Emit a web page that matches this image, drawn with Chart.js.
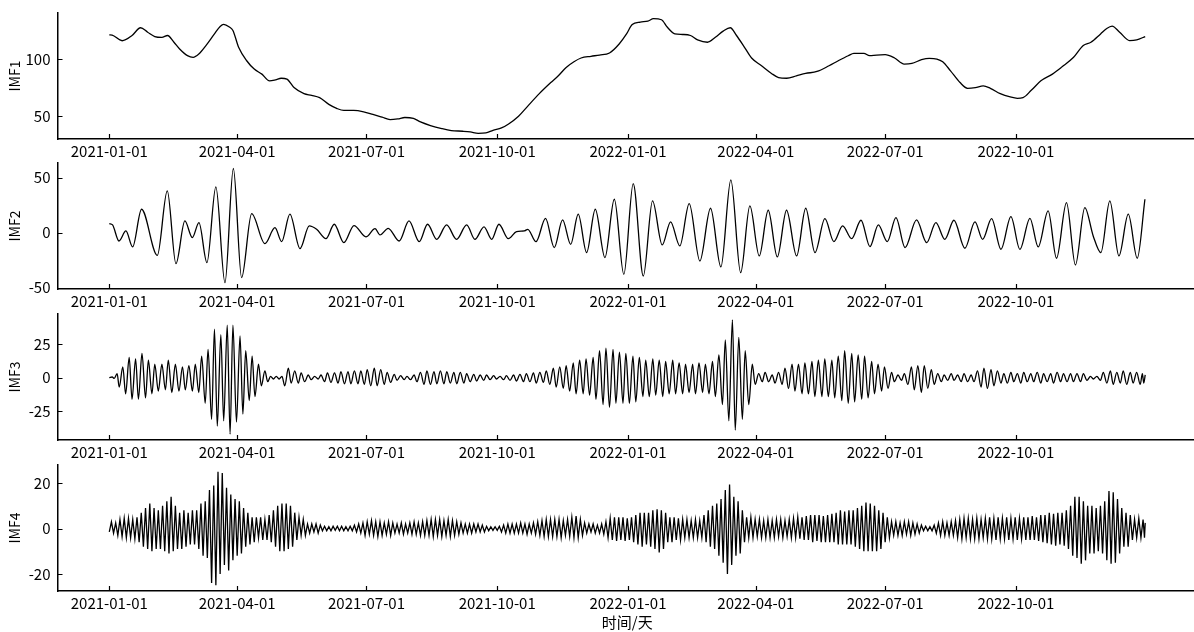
<!DOCTYPE html>
<html>
<head>
<meta charset="utf-8">
<script src="https://cdn.jsdelivr.net/npm/chart.js@4.4.1/dist/chart.umd.min.js"></script>
<style>
  html, body { margin: 0; padding: 0; background: #fff; overflow: hidden; }
  body { width: 1194px; height: 632px; position: relative; }
  canvas { position: absolute; left: 0; }
</style>
</head>
<body>
<canvas id="c1" width="1200" height="156" style="top:7px"></canvas>
<canvas id="c2" width="1200" height="156" style="top:157px"></canvas>
<canvas id="c3" width="1200" height="156" style="top:308px"></canvas>
<canvas id="c4" width="1200" height="173" style="top:459px"></canvas>
<script>
// x axis: days since 2021-01-01
var xTickDays = [0, 90, 181, 273, 365, 455, 546, 638];
var xTickLabels = ['2021-01-01', '2021-04-01', '2021-07-01', '2021-10-01',
                   '2022-01-01', '2022-04-01', '2022-07-01', '2022-10-01'];

// IMF1 (trend)
var imf1Days = [0, 2, 9, 16, 22, 27, 32, 37, 41, 45.5, 49.5, 55, 59, 63, 68, 74, 78, 80.5, 84.5, 87,
  91, 96.7, 102, 107.4, 112.8, 117, 121, 125, 130, 137, 142.4, 148, 154.5, 160, 165, 172, 179, 185.5,
  192, 197.6, 203, 208, 214, 219, 226, 234, 240.7, 248.8, 254, 259.6, 265, 270, 276, 281, 288, 294.5,
  302.6, 310.7, 316, 321.5, 327, 332, 339, 345, 352, 358.8, 364, 368, 373.7, 379, 383, 388.6, 392.6,
  398, 403.5, 409, 414, 421, 426.5, 432, 437, 441.4, 447, 452, 459, 466, 471, 476.7, 483.5, 490, 498,
  506.5, 513, 520, 524, 531, 535, 540, 546, 552.6, 559.4, 564.8, 571.6, 577, 582.4, 586.5, 592, 598.7,
  604, 609.5, 615, 620, 627, 634, 639, 643, 648.8, 655.6, 663.7, 670.5, 678.6, 685.4, 690.8, 697.6,
  701.7, 705.7, 711, 718, 723, 729];
var imf1Vals = [121.2, 121, 116, 120.6, 127.4, 123.5, 119.7, 119, 120.6, 114.7, 108.8, 103, 101.5, 104.4,
  111.8, 122, 128.5, 130.3, 128, 125, 110.3, 98.5, 91.2, 86.8, 80.9, 81.8, 83.2, 82.4, 75, 69.7, 68.2,
  66.2, 60.3, 56.8, 55, 55, 53.8, 51.5, 49.1, 47, 47.6, 48.8, 48, 45, 41.8, 39.1, 37.4, 36.8, 36.2, 35,
  35.3, 37.6, 39.7, 43.2, 50, 58.8, 69.7, 79.4, 85.3, 92.6, 97.6, 100.9, 102.4, 103.5, 105.3, 113.2, 122,
  130.3, 132.4, 133.2, 135.3, 134.4, 128, 122, 121.5, 120.6, 116.8, 114.7, 119, 124.4, 127.4, 120.6,
  110.3, 100.9, 94.1, 87.4, 83.8, 83.2, 85.3, 87.4, 89.1, 94.1, 98.5, 102.9, 105, 105, 102.9, 103.5,
  103.8, 100.9, 95.6, 96.2, 99.4, 100.6, 100, 97.6, 89.7, 79.4, 74.4, 75, 76.5, 74.4, 69.7, 66.8, 65.6,
  66.2, 72.6, 80.9, 86.8, 93.2, 101.5, 111.8, 114.7, 122, 126.5, 128.8, 123.5, 116.2, 116.8, 119.7];

// IMF2: peaks and troughs
var imf2Days = [0, 2.3, 6.8, 11.7, 16.4, 22.7, 33.8, 40.8, 46.9, 53.2, 58.4, 63.1, 68.7, 75, 81.4, 87.3,
  93.1, 100.2, 109.5, 116.6, 121.3, 127.1, 134.2, 140.7, 145.9, 152.5, 158.3, 165.1, 172.2, 180.6, 187,
  190.5, 196.3, 204, 210.9, 218.1, 224, 230.4, 237.4, 244.4, 251.5, 257.3, 263.7, 269.1, 274.2, 280.8,
  286.6, 292, 294.5, 300.3, 307, 313.1, 319, 324.7, 330, 335.9, 342, 348.8, 355.4, 362.1, 368.7, 375.8,
  382.3, 389.1, 395, 401.5, 408.1, 415.6, 423.1, 430.4, 437.4, 444.3, 450.8, 457.4, 463.7, 470.1, 476.6,
  483.7, 490.1, 496.6, 503.6, 509.9, 516.1, 522.4, 529, 535.3, 541.2, 547.5, 553.6, 560, 568.1, 575.2,
  581.7, 588, 594.4, 602.1, 609.2, 614.6, 620.9, 627.5, 634.5, 640.8, 647.9, 653.7, 660.7, 666.6, 673.6,
  679.9, 686.5, 692.4, 697.8, 704.1, 710.5, 717.1, 723.4, 728.8];
var imf2Vals = [8.2, 7, -7.6, 1.5, -13, 21.2, -20.6, 37.9, -28.2, 10.6, -4.5, 9.1, -27.3, 41.5, -45.5, 58.2,
  -40.9, 17.3, -10, 4.5, -8.2, 16.7, -14.5, 6.1, 3, -5.5, 7.6, -9.1, 6.4, -3.9, 3.6, -2.1, 3.9, -7.6, 10.6,
  -8.2, 7.6, -6.1, 7, -6.1, 7, -6.1, 5.2, -6.1, 7.6, -5.5, 0.9, 1.5, 3, -8.2, 13, -13.6, 11.5, -10.6, 16.7,
  -18.2, 21.2, -22.7, 30.3, -37.9, 44.5, -39.4, 28.8, -11.2, 9.7, -12.1, 26.4, -25.8, 22.1, -31.2, 47.9,
  -36.4, 24.2, -21.2, 20.3, -22.1, 20.3, -21.2, 22.1, -18.2, 12.7, -8.2, 6.1, -5.5, 11.2, -12.7, 7, -8.2,
  13.6, -13.6, 11.5, -9.1, 9.1, -6.1, 11.2, -14.2, 9.7, -6.1, 12.7, -15.2, 14.5, -15.2, 13, -13, 19.7,
  -23.3, 27.3, -29.4, 22.7, -3, -18.2, 28.8, -21.2, 16.7, -23.3, 30.3];

// IMF3: peaks and troughs
var imf3Days = [0, 2, 3.5, 5.5, 7, 9.5, 11.5, 14, 16, 18.5, 20.5, 23, 25.5, 27.5, 30, 32, 34.5, 37, 39.5,
  41.5, 44, 46.5, 49, 51.5, 53.5, 56, 58.5, 60.5, 63, 65, 67.5, 69.5, 72, 74, 76, 78.5, 80.5, 83, 85, 87,
  89.5, 92, 94, 96, 98.5, 100.5, 102.5, 105, 107, 109.5, 111.5, 113.5, 115.5, 117.5, 119.5, 121.5, 123.5,
  126, 128, 130.5, 133, 135, 137.5, 140, 142, 144.5, 147, 149, 151.5, 153.5, 156, 158.5, 161, 163, 165.5,
  168, 170, 172.5, 175, 177, 179.5, 181.5, 184, 186.5, 188.5, 191, 193.5, 195.5, 198, 200.5, 202.5, 205,
  207.5, 209.5, 212, 214.5, 216.5, 219, 221.5, 223.5, 226, 228.5, 230.5, 233, 235.5, 237.5, 240, 242.5,
  244.5, 247, 249.5, 251.5, 254, 256.5, 258.5, 261, 263.5, 265.5, 268, 270.5, 272.5, 275, 277.5, 279.5,
  282, 284.5, 286.5, 289, 291.5, 293.5, 296, 298.5, 300.5, 303, 305.5, 307.5, 310, 312.5, 314.5, 317,
  319.5, 321.5, 324, 326.5, 328.5, 331, 333.5, 335.5, 338, 340.5, 342.5, 345, 347.5, 349.5, 352, 354.5,
  356.5, 359, 361.5, 363.5, 366, 368.5, 370.5, 373, 375.5, 377.5, 380, 382.5, 384.5, 387, 389.5, 391.5,
  394, 396.5, 398.5, 401, 403.5, 405.5, 408, 410.5, 412.5, 415, 417.5, 419.5, 422, 424.5, 426.5, 429,
  431.5, 433.5, 436, 438.5, 440.5, 443, 445.5, 447.5, 450, 452.5, 454.5, 457, 459.5, 461.5, 464, 466.5,
  468.5, 471, 473.5, 475.5, 478, 480.5, 482.5, 485, 487.5, 489.5, 492, 494.5, 496.5, 499, 501.5, 503.5,
  506, 508.5, 510.5, 513, 515.5, 517.5, 520, 522.5, 524.5, 527, 529.5, 531.5, 534, 536.5, 538.5, 541,
  543.5, 545.5, 548, 550.5, 552.5, 555, 557.5, 559.5, 562, 564.5, 566.5, 569, 571.5, 573.5, 576, 578.5,
  580.5, 583, 585.5, 587.5, 590, 592.5, 594.5, 597, 599.5, 601.5, 604, 606.5, 608.5, 611, 613.5, 615.5,
  618, 620.5, 622.5, 625, 627.5, 629.5, 632, 634.5, 636.5, 639, 641.5, 643.5, 646, 648.5, 650.5, 653,
  655.5, 657.5, 660, 662.5, 664.5, 667, 669.5, 671.5, 674, 676.5, 678.5, 681, 683.5, 685.5, 688, 690.5,
  692.5, 695, 697.5, 699.5, 702, 704.5, 706.5, 709, 711.5, 713.5, 716, 718.5, 720.5, 723, 725.5, 727,
  728, 729];
var imf3Vals = [0, 0.5, -0.5, 3, -7, 8, -12, 15, -16, 14, -16, 18, -15, 13, -12, 10, -10, 10, -9, 13, -11,
  10, -10, 8, -9, 9, -10, 10, -11, 16, -19, 21, -31, 36, -36, 32, -32, 39, -42, 39, -33, 31, -27, 20, -17,
  16, -14, 10, -6, 5, -3, 1, -1, 1, -1, 1, -6, 7, -4, 5, -4, 3.5, -3, 2, -1.5, 1, -1, 2, -3, 3.5, -3.5,
  3.5, -4, 4.5, -4.5, 4.5, -4.5, 5, -4.5, 5, -5, 6, -6, 7, -6, 6, -5, 4, -3.5, 2.5, -2, 1.5, -1.5, 1,
  -1.5, 2, -3, 4, -5, 5, -5, 4.5, -4.5, 5, -4.5, 4.5, -4, 4, -4.5, 4, -4, 3, -3, 2.5, -2.5, 2, -2, 2,
  -1.5, 1.5, -1, 1, -1.5, 1.5, -2, 2, -2.5, 2.5, -3, 3, -3, 3.5, -4, 4, -3.5, 5, -5, 7, -7, 8, -8, 9,
  -10, 11, -12, 13, -12, 14, -13, 15, -16, 20, -20, 22, -22, 21, -19, 19, -19, 18, -19, 16, -18, 15, -14,
  13, -14, 14, -13, 13, -14, 12, -12, 13, -12, 11, -12, 10, -11, 10, -12, 11, -11, 10, -12, 12, -14, 17,
  -20, 28, -32, 43, -39, 30, -31, 20, -20, 10, -5, 3, -3, 4, -3, 2, -4, 4, -5, 7, -8, 10, -10, 10, -12,
  11, -12, 12, -14, 13, -14, 14, -14, 13, -15, 16, -17, 20, -19, 18, -18, 17, -16, 16, -15, 12, -12, 10,
  -10, 8, -8, 4, -3, 2, -2, 3, -5, 8, -9, 9, -11, 9, -8, 6, -5, 3, -3, 2, -2, 3, -2, 2, -3, 3, -3, 2, -3,
  5, -7, 7, -8, 6, -6, 5, -4, 3, -4, 4, -3, 3, -4, 4, -3, 3, -3, 4, -4, 3, -3, 3, -4, 4, -3, 3, -3, 3,
  -3, 3, -3, 3, -2, 1, -1, 1, -2, 4, -4, 5, -5, 4, -4, 5, -5, 4, -4, 4, -5, 3, -4, 2];

// IMF4: peaks and troughs
var imf4Days = [
  0, 1.5, 3, 4.5, 6, 7.5, 9, 10.5, 12, 13.5, 15, 16.5, 18, 19.5, 21, 22.5, 24, 25.5, 27, 28.5,
  30, 31.5, 33, 34.5, 36, 37.5, 39, 40.5, 42, 43.5, 45, 46.5, 48, 49.5, 51, 52.5, 54, 55.5, 57, 58.5,
  60, 61.5, 63, 64.5, 66, 67.5, 69, 70.5, 72, 73.5, 75, 76.5, 78, 79.5, 81, 82.5, 84, 85.5, 87, 88.5,
  90, 91.5, 93, 94.5, 96, 97.5, 99, 100.5, 102, 103.5, 105, 106.5, 108, 109.5, 111, 112.5, 114, 115.5, 117, 118.5,
  120, 121.5, 123, 124.5, 126, 127.5, 129, 130.5, 132, 133.5, 135, 136.5, 138, 139.5, 141, 142.5, 144, 145.5, 147, 148.5,
  150, 151.5, 153, 154.5, 156, 157.5, 159, 160.5, 162, 163.5, 165, 166.5, 168, 169.5, 171, 172.5, 174, 175.5, 177, 178.5,
  180, 181.5, 183, 184.5, 186, 187.5, 189, 190.5, 192, 193.5, 195, 196.5, 198, 199.5, 201, 202.5, 204, 205.5, 207, 208.5,
  210, 211.5, 213, 214.5, 216, 217.5, 219, 220.5, 222, 223.5, 225, 226.5, 228, 229.5, 231, 232.5, 234, 235.5, 237, 238.5,
  240, 241.5, 243, 244.5, 246, 247.5, 249, 250.5, 252, 253.5, 255, 256.5, 258, 259.5, 261, 262.5, 264, 265.5, 267, 268.5,
  270, 271.5, 273, 274.5, 276, 277.5, 279, 280.5, 282, 283.5, 285, 286.5, 288, 289.5, 291, 292.5, 294, 295.5, 297, 298.5,
  300, 301.5, 303, 304.5, 306, 307.5, 309, 310.5, 312, 313.5, 315, 316.5, 318, 319.5, 321, 322.5, 324, 325.5, 327, 328.5,
  330, 331.5, 333, 334.5, 336, 337.5, 339, 340.5, 342, 343.5, 345, 346.5, 348, 349.5, 351, 352.5, 354, 355.5, 357, 358.5,
  360, 361.5, 363, 364.5, 366, 367.5, 369, 370.5, 372, 373.5, 375, 376.5, 378, 379.5, 381, 382.5, 384, 385.5, 387, 388.5,
  390, 391.5, 393, 394.5, 396, 397.5, 399, 400.5, 402, 403.5, 405, 406.5, 408, 409.5, 411, 412.5, 414, 415.5, 417, 418.5,
  420, 421.5, 423, 424.5, 426, 427.5, 429, 430.5, 432, 433.5, 435, 436.5, 438, 439.5, 441, 442.5, 444, 445.5, 447, 448.5,
  450, 451.5, 453, 454.5, 456, 457.5, 459, 460.5, 462, 463.5, 465, 466.5, 468, 469.5, 471, 472.5, 474, 475.5, 477, 478.5,
  480, 481.5, 483, 484.5, 486, 487.5, 489, 490.5, 492, 493.5, 495, 496.5, 498, 499.5, 501, 502.5, 504, 505.5, 507, 508.5,
  510, 511.5, 513, 514.5, 516, 517.5, 519, 520.5, 522, 523.5, 525, 526.5, 528, 529.5, 531, 532.5, 534, 535.5, 537, 538.5,
  540, 541.5, 543, 544.5, 546, 547.5, 549, 550.5, 552, 553.5, 555, 556.5, 558, 559.5, 561, 562.5, 564, 565.5, 567, 568.5,
  570, 571.5, 573, 574.5, 576, 577.5, 579, 580.5, 582, 583.5, 585, 586.5, 588, 589.5, 591, 592.5, 594, 595.5, 597, 598.5,
  600, 601.5, 603, 604.5, 606, 607.5, 609, 610.5, 612, 613.5, 615, 616.5, 618, 619.5, 621, 622.5, 624, 625.5, 627, 628.5,
  630, 631.5, 633, 634.5, 636, 637.5, 639, 640.5, 642, 643.5, 645, 646.5, 648, 649.5, 651, 652.5, 654, 655.5, 657, 658.5,
  660, 661.5, 663, 664.5, 666, 667.5, 669, 670.5, 672, 673.5, 675, 676.5, 678, 679.5, 681, 682.5, 684, 685.5, 687, 688.5,
  690, 691.5, 693, 694.5, 696, 697.5, 699, 700.5, 702, 703.5, 705, 706.5, 708, 709.5, 711, 712.5, 714, 715.5, 717, 718.5,
  720, 721.5, 723, 724.5, 726, 727.5, 728.5, 729];
var imf4Vals = [
  -1.5, 3, -2, 2.5, -3, 4, -3.5, 4.5, -4, 4.5, -4, 4, -4.5, 5, -6, 7, -8, 9, -9, 11,
  -10, 9, -9, 8, -9, 10, -10, 12, -11, 14, -10, 10, -9, 7, -9, 8, -8, 7, -7, 8,
  -7, 8, -9, 11, -12, 12, -13, 17, -24, 19, -25, 25, -20, 24.5, -16, 18, -18.5, 15, -14, 13,
  -12, 12, -11, 9, -8, 7, -7, 5, -6, 5, -4, 5, -5, 4, -5, 6, -6, 8, -8, 10,
  -10, 11, -10, 11, -9, 10, -8, 7, -5, 5, -3, 4, -3, 2, -2, 2, -1.5, 2, -2, 1.5,
  -1, 1, -1, 0.8, -1, 1, -0.8, 1, -1, 1, -1, 0.8, -1, 1, -1, 1.5, -1.5, 2, -2, 2.5,
  -3, 3, -2.5, 3.5, -3, 3, -3.5, 3, -3, 2.5, -2.5, 3, -3, 2.5, -2, 2, -2, 2.5, -2.5, 2,
  -2, 2.5, -2.5, 3, -2.5, 2.5, -3, 3, -3, 3.5, -3, 4, -3.5, 4, -3, 4, -3.5, 3.5, -3, 4,
  -3.5, 3.5, -3, 3, -2.5, 2.5, -2, 2, -2, 2, -2, 2, -1.5, 2, -1.5, 1.5, -1.5, 1, -1, 0.8,
  -0.8, 0.8, -0.8, 1, -1.5, 1.5, -2, 2, -2, 2, -2, 2, -2, 2.5, -2, 2, -2.5, 2, -2, 2.5,
  -2.5, 3, -3, 3.5, -3.5, 4, -3.5, 4, -3.5, 4, -3.5, 4, -4, 3.5, -3, 4, -3.5, 5, -4, 5.5,
  -4, 4, -3, 2.5, -2, 2, -1.5, 2, -2, 1.5, -2, 2, -2.5, 3, -4, 4.5, -5, 5, -5.5, 5,
  -5, 5, -5.5, 4.5, -5, 5, -6, 6, -7, 7, -8, 7, -7, 7, -8, 8, -9, 8.5, -10.5, 8,
  -9, 7, -6, 5, -6, 5, -5, 4.5, -5, 4, -4, 4, -4, 3.5, -4, 4, -4, 3.5, -4, 6,
  -6, 8, -8, 10, -9, 11, -12, 13, -15, 17, -20, 19.4, -16, 14, -12, 12, -11, 8, -6, 5,
  -4, 5, -4, 4, -3.5, 4, -4, 3.5, -4, 4, -4, 3.5, -4, 4, -3.5, 4, -4, 3.5, -3.5, 4,
  -4, 4.5, -4, 5, -4.5, 5, -5, 5.5, -5, 6, -6, 6, -5.5, 6, -6, 5.5, -6, 6, -6, 6.5,
  -6, 7, -7, 8, -7, 7.5, -7, 8, -7, 8, -8, 9, -9, 10, -10, 11.5, -10, 11, -10, 10,
  -10, 8, -9, 7, -6, 5, -4, 3, -3, 3, -3, 2.5, -3, 3, -2.5, 3, -3, 2.5, -2.5, 2,
  -2, 1.5, -1, 1, -1, 0.8, -1, 1.5, -2, 2.5, -3, 3, -3, 2.5, -3, 3, -3, 3.5, -4, 4,
  -4.5, 4.5, -4, 4.5, -4.5, 4, -4.5, 4.5, -4.5, 4, -4, 4.5, -4.5, 5, -4.5, 4.5, -5, 5, -4.5, 4.5,
  -4.5, 5, -5, 4.5, -4.5, 5, -5, 4.5, -4.5, 5, -5, 5, -5, 5.5, -5, 5, -5.5, 6, -6, 6,
  -6.5, 7, -7, 6.5, -7.5, 7, -7, 7, -7.5, 8, -9, 10, -12, 14, -13, 14, -15.5, 12, -14, 10,
  -11, 10, -11, 9, -10, 10, -11, 12, -14, 16.5, -15.5, 16, -15, 13, -11, 9, -8, 7, -8, 6,
  -5, 4, -4, 4.5, -4, 4, -4, 2.5];

var imf1Ticks = [50, 100];
var imf2Ticks = [-50, 0, 50];
var imf3Ticks = [-25, 0, 25];
var imf4Ticks = [-20, 0, 20];

var FONT = "'Noto Sans CJK SC', 'DejaVu Sans', sans-serif";

// matplotlib-style inward tick marks
var inwardTicks = {
  id: 'inwardTicks',
  afterDraw: function (chart) {
    var ctx = chart.ctx, a = chart.chartArea, x = chart.scales.x, y = chart.scales.y;
    ctx.save();
    ctx.strokeStyle = '#000';
    ctx.lineWidth = 1.2;
    ctx.beginPath();
    x.ticks.forEach(function (t) {
      var px = Math.round(x.getPixelForValue(t.value)) + 0.5;
      ctx.moveTo(px, a.bottom);
      ctx.lineTo(px, a.bottom - 5);
    });
    y.ticks.forEach(function (t) {
      var py = Math.round(y.getPixelForValue(t.value)) + 0.5;
      ctx.moveTo(a.left, py);
      ctx.lineTo(a.left + 5, py);
    });
    ctx.stroke();
    ctx.restore();
  }
};

function makePanel(id, days, vals, yTicks, yMin, yMax, name, smooth, lastPanel) {
  var pts = days.map(function (d, i) { return { x: d, y: vals[i] }; });
  return new Chart(document.getElementById(id), {
    type: 'line',
    data: {
      datasets: [{
        data: pts,
        borderColor: '#000',
        borderWidth: 1.3,
        pointRadius: 0,
        fill: false,
        cubicInterpolationMode: smooth ? 'monotone' : 'default',
        tension: 0
      }]
    },
    options: {
      responsive: false,
      animation: false,
      devicePixelRatio: 1,
      layout: { padding: { top: 6, right: 3, left: 0, bottom: 0 } },
      plugins: { legend: { display: false }, tooltip: { enabled: false } },
      scales: {
        x: {
          type: 'linear',
          min: -36.45,
          max: 765.45,
          grid: { display: false, drawTicks: false },
          border: { display: true, color: '#000', width: 1.5 },
          afterBuildTicks: function (s) { s.ticks = xTickDays.map(function (v) { return { value: v }; }); },
          afterFit: function (s) {
            s.height = lastPanel ? 41 : 24;
            s.paddingLeft = 0; s.paddingRight = 0;
          },
          ticks: {
            autoSkip: false, maxRotation: 0, padding: 3, color: '#000',
            font: { family: FONT, size: 15 },
            callback: function (v, i) { return xTickLabels[i]; }
          },
          title: {
            display: lastPanel, text: '时间/天', color: '#000',
            font: { family: FONT, size: 15 }, padding: { top: 0, bottom: 1 }
          }
        },
        y: {
          min: yMin,
          max: yMax,
          grid: { display: false, drawTicks: false },
          border: { display: true, color: '#000', width: 1.5 },
          afterBuildTicks: function (s) { s.ticks = yTicks.map(function (v) { return { value: v }; }); },
          afterFit: function (s) {
            s.width = 57.5;
            s.paddingTop = 0; s.paddingBottom = 0;
          },
          ticks: { padding: 7, color: '#000', font: { family: FONT, size: 15 } },
          title: {
            display: true, text: name, color: '#000',
            font: { family: FONT, size: 14 }, padding: { top: 6, bottom: 0 }
          }
        }
      }
    },
    plugins: [inwardTicks]
  });
}

makePanel('c1', imf1Days, imf1Vals, imf1Ticks, 30, 140.3, 'IMF1', true, false);
makePanel('c2', imf2Days, imf2Vals, imf2Ticks, -51.2, 63.2, 'IMF2', true, false);
makePanel('c3', imf3Days, imf3Vals, imf3Ticks, -46.3, 47.3, 'IMF3', true, false);
makePanel('c4', imf4Days, imf4Vals, imf4Ticks, -27.5, 28, 'IMF4', false, true);
</script>
</body>
</html>
